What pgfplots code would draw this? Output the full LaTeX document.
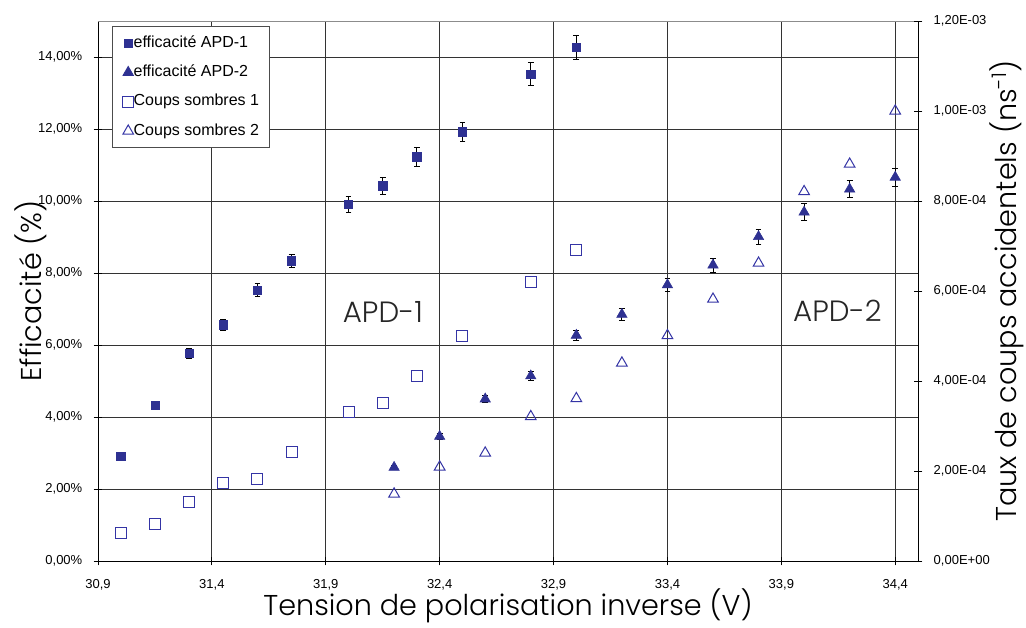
\documentclass[border=0pt]{standalone}
\usepackage{fontspec}
\setmainfont{Liberation Sans}
\newfontfamily\geo{Poppins Light}
\usepackage{pgfplots}
\pgfplotsset{compat=1.18}
\usepackage{pgfplotstable}

\definecolor{mblue}{RGB}{46,49,146}
\definecolor{hblue}{RGB}{52,52,165}

\pgfplotstableread{
x y e
31.00 2.90 0.07
31.15 4.33 0.10
31.30 5.77 0.13
31.45 6.56 0.15
31.60 7.53 0.17
31.75 8.34 0.19
32.00 9.90 0.23
32.15 10.42 0.24
32.30 11.23 0.26
32.50 11.92 0.27
32.80 13.52 0.32
33.00 14.27 0.33
}\effA

\pgfplotstableread{
x y e
32.2 2.60 0.06
32.4 3.46 0.08
32.6 4.50 0.10
32.8 5.14 0.12
33.0 6.27 0.14
33.2 6.85 0.16
33.4 7.67 0.18
33.6 8.22 0.19
33.8 9.01 0.21
34.0 9.69 0.23
34.2 10.33 0.24
34.4 10.66 0.25
}\effB

% dark counts in units of 1e-4 ns^-1
\pgfplotstableread{
x y
31.00 0.63
31.15 0.82
31.30 1.32
31.45 1.73
31.60 1.82
31.75 2.43
32.00 3.31
32.15 3.51
32.30 4.11
32.50 5.01
32.80 6.21
33.00 6.91
}\darkA

\pgfplotstableread{
x y
32.2 1.49
32.4 2.09
32.6 2.40
32.8 3.21
33.0 3.61
33.2 4.40
33.4 5.01
33.6 5.82
33.8 6.62
34.0 8.21
34.2 8.82
34.4 10.00
}\darkB

\begin{document}
\begin{tikzpicture}
\useasboundingbox (-73.5pt,-50.25pt) rectangle (696pt,420.75pt);
\pgfplotsset{
  base/.style={
    width=615pt, height=405pt, scale only axis,
    xmin=30.9, xmax=34.5,
    tick align=center, major tick length=6.5pt,
    tick style={black, line width=0.6pt},
    axis line style={black, line width=0.7pt, -},
    ticklabel style={font=\fontsize{9.75}{11}\selectfont},
  }
}
\begin{axis}[base,
  ymin=0, ymax=15,
  axis x line*=bottom, axis y line*=left,
  xtick={30.9,31.4,31.9,32.4,32.9,33.4,33.9,34.4},
  xticklabels={{30,9},{31,4},{31,9},{32,4},{32,9},{33,4},{33,9},{34,4}},
  ytick={0,2,4,6,8,10,12,14},
  yticklabels={{0,00\%},{2,00\%},{4,00\%},{6,00\%},{8,00\%},{10,00\%},{12,00\%},{14,00\%}},
  xticklabel style={yshift=-7pt},
  yticklabel style={xshift=-5pt},
  grid=major,
  major grid style={black!80, line width=0.6pt},
  extra y ticks={15}, extra y tick labels={},
  extra y tick style={grid=major, major grid style={black!45, line width=0.6pt}, tick style={draw=none}},
  xlabel={Tension de polarisation inverse (V)},
  xlabel style={font=\geo\fontsize{21.5}{24}\selectfont, at={(axis description cs:0.5,-0.1)}, anchor=base},
  ylabel={Efficacité (\%)},
  ylabel style={font=\geo\fontsize{21.5}{24}\selectfont, at={(axis description cs:-0.0817,0.5)}, anchor=center},
]
\addplot[only marks, mark=square*, mark size=3.1pt, color=mblue,
  error bars/.cd, y dir=both, y explicit,
  error bar style={black, line width=0.6pt},
  error mark options={black, rotate=90, mark size=2.2pt, line width=0.6pt}]
  table[x=x, y=y, y error=e] {\effA};
\addplot[only marks, mark=triangle*, mark size=4.5pt, color=mblue,
  error bars/.cd, y dir=both, y explicit,
  error bar style={black, line width=0.6pt},
  error mark options={black, rotate=90, mark size=2.2pt, line width=0.6pt}]
  table[x=x, y=y, y error=e] {\effB};
\node[font=\geo\fontsize{22}{26}\selectfont, black!85] at (axis cs:32.151,6.93) {APD-1};
\node[font=\geo\fontsize{22}{26}\selectfont, black!85] at (axis cs:34.146,6.95) {APD-2};
\end{axis}

\begin{axis}[base,
  ymin=0, ymax=12,
  axis x line=none, axis y line*=right,
  ytick={0,2,4,6,8,10,12},
  yticklabels={{0,00E+00},{2,00E-04},{4,00E-04},{6,00E-04},{8,00E-04},{1,00E-03},{1,20E-03}},
  yticklabel style={xshift=5pt},
  ylabel={Taux de coups accidentels (ns\textsuperscript{-1})},
  ylabel style={font=\geo\fontsize{21.5}{24}\selectfont, at={(axis description cs:1.1085,0.5)}, anchor=center, rotate=0},
  legend cell align=left,
  legend style={at={(0.0167,0.9907)}, anchor=north west, draw=black!70, line width=0.6pt, fill=white,
    font=\fontsize{12}{14}\selectfont, row sep=11pt, inner xsep=8pt, inner ysep=7pt,
    nodes={inner sep=0pt, text height=8.5pt, text depth=2.5pt}},
  legend image code/.code={\draw[#1, line width=0.6pt] plot coordinates {(0pt,0pt)};},
  /tikz/every even column/.append style={column sep=4pt},
]
\addlegendimage{only marks, mark=square*, mark size=3.1pt, color=mblue}
\addlegendentry{efficacité APD-1}
\addlegendimage{only marks, mark=triangle*, mark size=4.5pt, color=mblue}
\addlegendentry{efficacité APD-2}
\addplot[only marks, mark=square, mark size=4.1pt, color=hblue, mark options={line width=0.75pt}]
  table[x=x, y=y] {\darkA};
\addlegendentry{Coups sombres 1}
\addplot[only marks, mark=triangle, mark size=4.6pt, color=hblue, mark options={line width=0.75pt}]
  table[x=x, y=y] {\darkB};
\addlegendentry{Coups sombres 2}
\end{axis}
\end{tikzpicture}
\end{document}
